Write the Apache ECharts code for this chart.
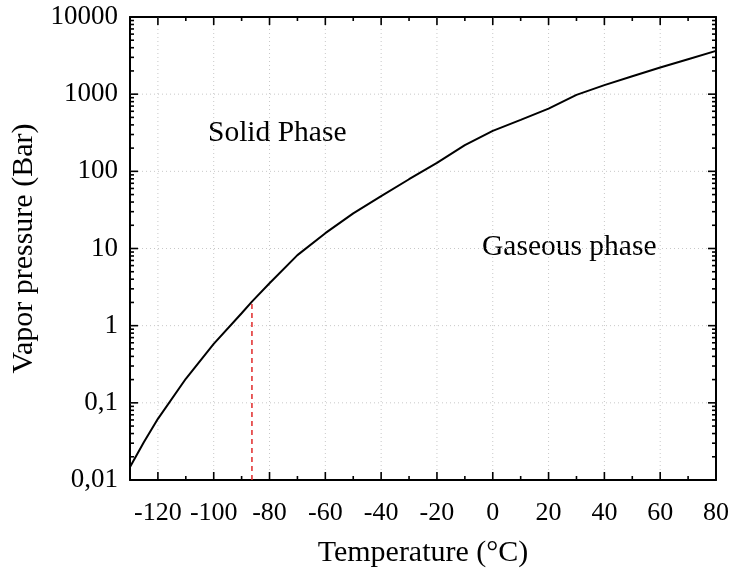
<!DOCTYPE html>
<html>
<head>
<meta charset="UTF-8">
<title>Vapor pressure</title>
<script src="https://cdn.jsdelivr.net/npm/echarts@6/dist/echarts.min.js"></script>
<style>
  html, body { margin: 0; padding: 0; background: #fff; }
  #chart { width: 732px; height: 570px; }
</style>
</head>
<body>
<div id="chart"></div>
<script>
// temperature (°C) and vapor pressure (bar)
const temps     = [-132, -130, -125, -120, -110, -100, -90, -86.3, -80, -70, -60, -50, -40, -30, -20, -10, 0, 10, 20, 30, 40, 50, 60, 70, 80, 82.5];
const pressures = [0.0105, 0.0147, 0.031, 0.062, 0.205, 0.58, 1.45, 2.05, 3.55, 8.2, 15.8, 28.5, 47.7, 79, 129, 218, 335, 465, 650, 980, 1310, 1710, 2220, 2840, 3640, 3850];

// triple point marker (dashed red)
const tripleT = -86.3;
const tripleP = 2.05;

// axes
const xMin = -130, xMax = 80;
const yMin = 0.01, yMax = 10000;
const xGrid = [-120, -100, -80, -60, -40, -20, 0, 20, 40, 60];
const yGrid = [0.1, 1, 10, 100, 1000];

const serif = 'Liberation Serif';

// tick marks: x every 10 (long on multiples of 20), y at 1..9 per decade
const xTicks = [];
for (let t = xMin; t <= xMax; t += 10) xTicks.push([t, 1, t % 20 === 0 ? 8 : 4]);
const yTicks = [];
for (let k = -2; k <= 4; k++) {
  for (let m = 1; m <= 9; m++) {
    const v = m * Math.pow(10, k);
    if (v > yMax * 1.0001) break;
    yTicks.push([xMin, v, m === 1 ? 8 : 4]);
  }
}

const chart = echarts.init(document.getElementById('chart'));

const axisLine = { show: true, onZero: false, lineStyle: { color: '#000', width: 2 } };
const tickStyle = { stroke: '#000', lineWidth: 1.6 };
const gridStyle = { stroke: '#c8c8c8', lineWidth: 1, lineDash: [1, 3] };

chart.setOption({
  animation: false,
  grid: { left: 130, right: 16, top: 17, bottom: 90, outerBoundsMode: 'none', containLabel: false },
  xAxis: [{
    type: 'value', min: xMin, max: xMax, interval: 10,
    axisLine: axisLine, axisTick: { show: false }, splitLine: { show: false },
    axisLabel: {
      margin: 20, color: '#000', fontFamily: serif, fontSize: 26,
      formatter: v => (v % 20 === 0 ? String(v) : '')
    },
    name: 'Temperature (°C)', nameLocation: 'middle', nameGap: 58,
    nameTextStyle: { color: '#000', fontFamily: serif, fontSize: 30 }
  }, {
    type: 'value', position: 'top', min: xMin, max: xMax, interval: 10,
    axisLine: axisLine, axisTick: { show: false }, axisLabel: { show: false }, splitLine: { show: false }
  }],
  yAxis: [{
    type: 'log', logBase: 10, min: yMin, max: yMax, splitNumber: 6,
    axisLine: axisLine, axisTick: { show: false },
    splitLine: { show: false },
    axisLabel: {
      margin: 12, color: '#000', fontFamily: serif, fontSize: 27,
      formatter: v => String(+v.toPrecision(6)).replace('.', ',')
    },
    name: 'Vapor pressure (Bar)', nameLocation: 'middle', nameGap: 86,
    nameTextStyle: { color: '#000', fontFamily: serif, fontSize: 30 }
  }, {
    type: 'log', logBase: 10, position: 'right', min: yMin, max: yMax, splitNumber: 6,
    axisLine: axisLine, axisTick: { show: false }, axisLabel: { show: false }, splitLine: { show: false }
  }],
  graphic: [
    { type: 'text', left: 208, top: 118, style: { text: 'Solid Phase', font: '29.5px "Liberation Serif"', fill: '#000' } },
    { type: 'text', left: 482, top: 232, style: { text: 'Gaseous phase', font: '29.5px "Liberation Serif"', fill: '#000' } }
  ],
  series: [{
    // dotted grid, vertical
    type: 'custom',
    data: xGrid.map(v => [v, 1]),
    z: 1, silent: true,
    renderItem: (params, api) => {
      const r = params.coordSys;
      const x = api.coord([api.value(0), 1])[0];
      return { type: 'line', shape: { x1: x, y1: r.y, x2: x, y2: r.y + r.height }, style: gridStyle };
    }
  }, {
    // dotted grid, horizontal
    type: 'custom',
    data: yGrid.map(v => [xMin, v]),
    z: 1, silent: true,
    renderItem: (params, api) => {
      const r = params.coordSys;
      const y = api.coord([xMin, api.value(1)])[1];
      return { type: 'line', shape: { x1: r.x, y1: y, x2: r.x + r.width, y2: y }, style: gridStyle };
    }
  }, {
    type: 'line',
    data: temps.map((t, i) => [t, pressures[i]]),
    showSymbol: false, clip: false, smooth: false,
    lineStyle: { color: '#000', width: 2 },
    z: 5
  }, {
    type: 'line',
    data: [[tripleT, yMin], [tripleT, tripleP]],
    showSymbol: false,
    lineStyle: { color: '#e02828', width: 1.5, type: [5, 4] },
    z: 4
  }, {
    type: 'custom',
    data: xTicks,
    z: 6, silent: true,
    renderItem: (params, api) => {
      const r = params.coordSys;
      const x = api.coord([api.value(0), 1])[0];
      const len = api.value(2);
      return { type: 'group', children: [
        { type: 'line', shape: { x1: x, y1: r.y + r.height, x2: x, y2: r.y + r.height - len }, style: tickStyle },
        { type: 'line', shape: { x1: x, y1: r.y, x2: x, y2: r.y + len }, style: tickStyle }
      ] };
    }
  }, {
    type: 'custom',
    data: yTicks,
    z: 6, silent: true,
    renderItem: (params, api) => {
      const r = params.coordSys;
      const y = api.coord([xMin, api.value(1)])[1];
      const len = api.value(2);
      return { type: 'group', children: [
        { type: 'line', shape: { x1: r.x, y1: y, x2: r.x + len, y2: y }, style: tickStyle },
        { type: 'line', shape: { x1: r.x + r.width, y1: y, x2: r.x + r.width - len, y2: y }, style: tickStyle }
      ] };
    }
  }]
});
</script>
</body>
</html>
